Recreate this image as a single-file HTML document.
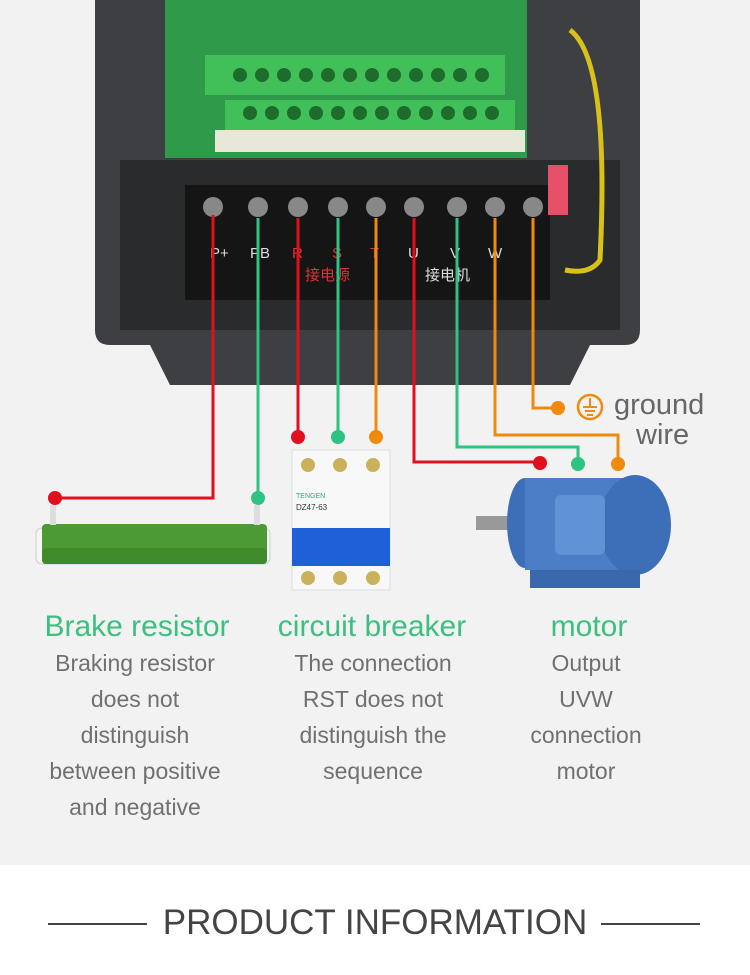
<!DOCTYPE html>
<html><head><meta charset="utf-8"><style>
html,body{margin:0;padding:0;width:750px;height:975px;overflow:hidden;background:#fff}
svg{display:block}
</style></head><body>
<svg width="750" height="975" viewBox="0 0 750 975" xmlns="http://www.w3.org/2000/svg" font-family="Liberation Sans, Noto Sans CJK SC, sans-serif">
<rect x="0" y="0" width="750" height="865" fill="#f2f2f2"/>
<rect x="0" y="865" width="750" height="110" fill="#ffffff"/>
<!-- device -->
<path d="M95 0 H640 V330 Q640 345 625 345 L590 345 L570 385 H170 L150 345 H110 Q95 345 95 330 Z" fill="#3e3f42"/>
<rect x="120" y="160" width="500" height="170" fill="#2a2b2d"/>
<rect x="165" y="0" width="362" height="158" fill="#2f9a4a"/>
<rect x="205" y="55" width="300" height="40" fill="#41c05a"/>
<rect x="225" y="100" width="290" height="30" fill="#41c05a"/>
<rect x="215" y="130" width="310" height="22" fill="#e8e8d8"/>
<g fill="#1e6b2c">
<circle cx="240" cy="75" r="7"/><circle cx="262" cy="75" r="7"/><circle cx="284" cy="75" r="7"/><circle cx="306" cy="75" r="7"/><circle cx="328" cy="75" r="7"/><circle cx="350" cy="75" r="7"/><circle cx="372" cy="75" r="7"/><circle cx="394" cy="75" r="7"/><circle cx="416" cy="75" r="7"/><circle cx="438" cy="75" r="7"/><circle cx="460" cy="75" r="7"/><circle cx="482" cy="75" r="7"/>
<circle cx="250" cy="113" r="7"/><circle cx="272" cy="113" r="7"/><circle cx="294" cy="113" r="7"/><circle cx="316" cy="113" r="7"/><circle cx="338" cy="113" r="7"/><circle cx="360" cy="113" r="7"/><circle cx="382" cy="113" r="7"/><circle cx="404" cy="113" r="7"/><circle cx="426" cy="113" r="7"/><circle cx="448" cy="113" r="7"/><circle cx="470" cy="113" r="7"/><circle cx="492" cy="113" r="7"/>
</g>
<rect x="185" y="185" width="365" height="115" fill="#151515"/>
<g fill="#888"><circle cx="213" cy="207" r="10"/><circle cx="258" cy="207" r="10"/><circle cx="298" cy="207" r="10"/><circle cx="338" cy="207" r="10"/><circle cx="376" cy="207" r="10"/><circle cx="414" cy="207" r="10"/><circle cx="457" cy="207" r="10"/><circle cx="495" cy="207" r="10"/><circle cx="533" cy="207" r="10"/></g>
<g fill="#ddd" font-size="15"><text x="210" y="258">P+</text><text x="250" y="258">PB</text><text x="292" y="258" fill="#d33">R</text><text x="332" y="258" fill="#d33">S</text><text x="370" y="258" fill="#d33">T</text><text x="408" y="258">U</text><text x="450" y="258">V</text><text x="488" y="258">W</text>
<text x="305" y="280" fill="#d33">接电源</text><text x="425" y="280">接电机</text></g>
<path d="M570 30 Q610 60 600 260 Q590 275 565 270" fill="none" stroke="#d8c21a" stroke-width="5"/>
<rect x="548" y="165" width="20" height="50" fill="#e8506a"/>
<!-- wires -->
<g fill="none" stroke-width="3">
<path d="M213 215 V498 H55" stroke="#e0101e"/>
<path d="M258 218 V498" stroke="#2fc383"/>
<path d="M298 218 V437" stroke="#e0101e"/>
<path d="M338 218 V437" stroke="#2fc383"/>
<path d="M376 218 V437" stroke="#f08a0c"/>
<path d="M414 218 V462 H540" stroke="#e0101e"/>
<path d="M457 218 V447 H578 V464" stroke="#2fc383"/>
<path d="M495 218 V435 H618 V464" stroke="#f08a0c"/>
<path d="M533 218 V408 H558" stroke="#f08a0c"/>
</g>
<circle cx="55" cy="498" r="7" fill="#e0101e"/><circle cx="258" cy="498" r="7" fill="#2fc383"/>
<circle cx="298" cy="437" r="7" fill="#e0101e"/><circle cx="338" cy="437" r="7" fill="#2fc383"/><circle cx="376" cy="437" r="7" fill="#f08a0c"/>
<circle cx="540" cy="463" r="7" fill="#e0101e"/><circle cx="578" cy="464" r="7" fill="#2fc383"/><circle cx="618" cy="464" r="7" fill="#f08a0c"/>
<circle cx="558" cy="408" r="7" fill="#f08a0c"/>
<circle cx="590" cy="407" r="12" fill="none" stroke="#f08a0c" stroke-width="2.5"/>
<path d="M590 398 V407 M583 407 H597 M585 411 H595 M587 415 H593" stroke="#f08a0c" stroke-width="2"/>
<text x="614" y="414" font-size="29" fill="#666">ground</text>
<text x="636" y="444" font-size="29" fill="#666">wire</text>
<!-- resistor -->
<rect x="36" y="528" width="234" height="36" rx="6" fill="#f5f5f5" stroke="#ccc"/>
<rect x="42" y="524" width="225" height="40" rx="4" fill="#4c9a34"/>
<rect x="42" y="548" width="225" height="16" rx="4" fill="#3f8a2b"/>
<rect x="50" y="505" width="6" height="20" fill="#ddd"/><rect x="254" y="505" width="6" height="20" fill="#ddd"/>
<!-- breaker -->
<rect x="292" y="450" width="98" height="140" fill="#f8f8f8" stroke="#ddd"/>
<rect x="292" y="528" width="98" height="38" fill="#1f60d8"/>
<g fill="#c9b25a"><circle cx="308" cy="465" r="7"/><circle cx="340" cy="465" r="7"/><circle cx="373" cy="465" r="7"/><circle cx="308" cy="578" r="7"/><circle cx="340" cy="578" r="7"/><circle cx="373" cy="578" r="7"/></g>
<text x="296" y="498" font-size="7" fill="#2a8">TENGEN</text><text x="296" y="510" font-size="8" fill="#333">DZ47-63</text>
<!-- motor -->
<rect x="476" y="516" width="40" height="14" fill="#999"/>
<ellipse cx="525" cy="523" rx="18" ry="45" fill="#3c6fb8"/>
<rect x="525" y="478" width="110" height="92" fill="#4a7fc8"/>
<ellipse cx="635" cy="525" rx="36" ry="50" fill="#3c6fb8"/>
<rect x="555" y="495" width="50" height="60" rx="6" fill="#5f93d6"/>
<rect x="530" y="570" width="110" height="18" fill="#3a68ad"/>
<!-- captions -->
<g text-anchor="middle">
<text x="137" y="636" font-size="30" fill="#3dbf7f">Brake resistor</text>
<text x="372" y="636" font-size="30" fill="#3dbf7f">circuit breaker</text>
<text x="589" y="636" font-size="30" fill="#3dbf7f">motor</text>
<g font-size="23" fill="#707070">
<text x="135" y="671">Braking resistor</text><text x="135" y="707">does not</text><text x="135" y="743">distinguish</text><text x="135" y="779">between positive</text><text x="135" y="815">and negative</text>
<text x="373" y="671">The connection</text><text x="373" y="707">RST does not</text><text x="373" y="743">distinguish the</text><text x="373" y="779">sequence</text>
<text x="586" y="671">Output</text><text x="586" y="707">UVW</text><text x="586" y="743">connection</text><text x="586" y="779">motor</text>
</g>
<text x="375" y="934" font-size="35" fill="#444">PRODUCT INFORMATION</text>
</g>
<line x1="48" y1="924" x2="147" y2="924" stroke="#444" stroke-width="2"/>
<line x1="601" y1="924" x2="700" y2="924" stroke="#444" stroke-width="2"/>
</svg>
</body></html>
